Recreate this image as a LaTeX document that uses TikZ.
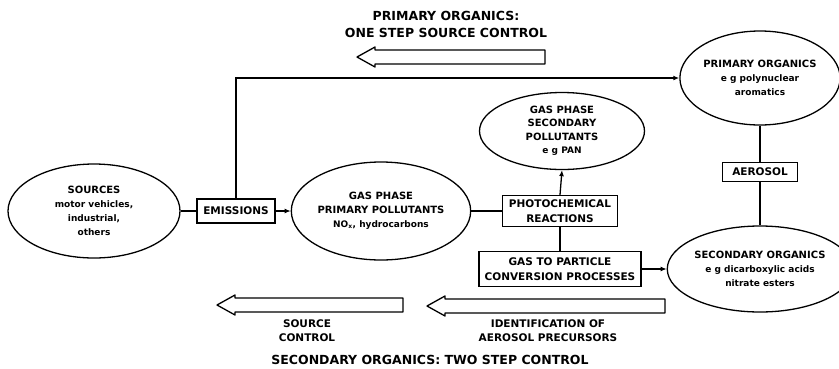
\documentclass[tikz,border=0pt]{standalone}
\usepackage{fontspec}
\setmainfont{DejaVu Sans}
\usetikzlibrary{arrows.meta,positioning,shapes.geometric}

\newcommand{\lc}{\fontsize{9}{14}\selectfont}

\begin{document}
\begin{tikzpicture}[x=1pt,y=-1pt,>={Latex[length=6pt,width=5pt]},line width=1.3pt,
  oval/.style={draw,ellipse,inner sep=0pt,align=center,font=\bfseries\fontsize{10}{14}\selectfont},
  box/.style={draw,rectangle,inner sep=0pt,align=center,font=\bfseries\fontsize{10.5}{15}\selectfont},
  hollow/.style={draw,line width=1.3pt,line join=round},
  caption/.style={align=center,font=\bfseries\fontsize{10.5}{14}\selectfont},
  heading/.style={align=center,font=\bfseries\fontsize{12.5}{17}\selectfont}]
\useasboundingbox (0,0) rectangle (839,368);

% headings and captions
\node[heading] (toptitle) at (446,24) {PRIMARY ORGANICS:\\ONE STEP SOURCE CONTROL};
\node[heading] (bottitle) at (430,360) {SECONDARY ORGANICS: TWO STEP CONTROL};
\node[caption] (srcctl) at (307,331) {SOURCE\\CONTROL};
\node[caption] (ident) at (548,331) {IDENTIFICATION OF\\AEROSOL PRECURSORS};

% hollow arrows
\foreach \tip/\tail/\yy in {357/545/57, 217/403/305, 427/665/306}
  \draw[hollow] (\tail,\yy-7) -- (\tip+18,\yy-7) -- (\tip+18,\yy-10) -- (\tip,\yy)
    -- (\tip+18,\yy+10) -- (\tip+18,\yy+7) -- (\tail,\yy+7) -- cycle;

% ellipses
\node[oval,minimum width=172pt,minimum height=94pt] (src) at (94,211)
  {SOURCES\\{\lc motor vehicles,}\\{\lc industrial,}\\{\lc others}};
\node[oval,minimum width=158pt,minimum height=98pt] (gpp) at (381,211)
  {GAS PHASE\\PRIMARY POLLUTANTS\\{\lc NO\textsubscript{x}, hydrocarbons}};
\node[oval,minimum width=165pt,minimum height=77pt,font=\bfseries\fontsize{10}{13.5}\selectfont] (gsp) at (562,131)
  {GAS PHASE\\SECONDARY\\POLLUTANTS\\{\lc e g PAN}};
\node[oval,minimum width=154pt,minimum height=94pt] (prim) at (760,78)
  {PRIMARY ORGANICS\\{\lc e g polynuclear}\\{\lc aromatics}};
\node[oval,minimum width=154pt,minimum height=86pt] (secorg) at (760,269)
  {SECONDARY ORGANICS\\{\lc e g dicarboxylic acids}\\{\lc nitrate esters}};

% boxes
\node[box,minimum width=78pt,minimum height=24pt] (emis) at (236,211) {EMISSIONS};
\node[box,minimum width=115pt,minimum height=31pt] (photo) at (560,211) {PHOTOCHEMICAL\\REACTIONS};
\node[box,minimum width=162pt,minimum height=35pt] (g2p) at (560,269) {GAS TO PARTICLE\\CONVERSION PROCESSES};
\node[box,minimum width=75pt,minimum height=19pt] (aer) at (760,172) {AEROSOL};

% connectors
\draw (src.east) -- (emis.west);
\draw[->] (emis.east) -- (gpp.west);
\draw[->] (emis.north) |- (prim.west);
\draw (gpp.east) -- (photo.west);
\draw[->] (photo.north) -- (gsp.south);
\draw (photo.south) -- (g2p.north);
\draw[->] (g2p.east) -- (secorg.west);
\draw (prim.south) -- (aer.north);
\draw (aer.south) -- (secorg.north);
\end{tikzpicture}
\end{document}
